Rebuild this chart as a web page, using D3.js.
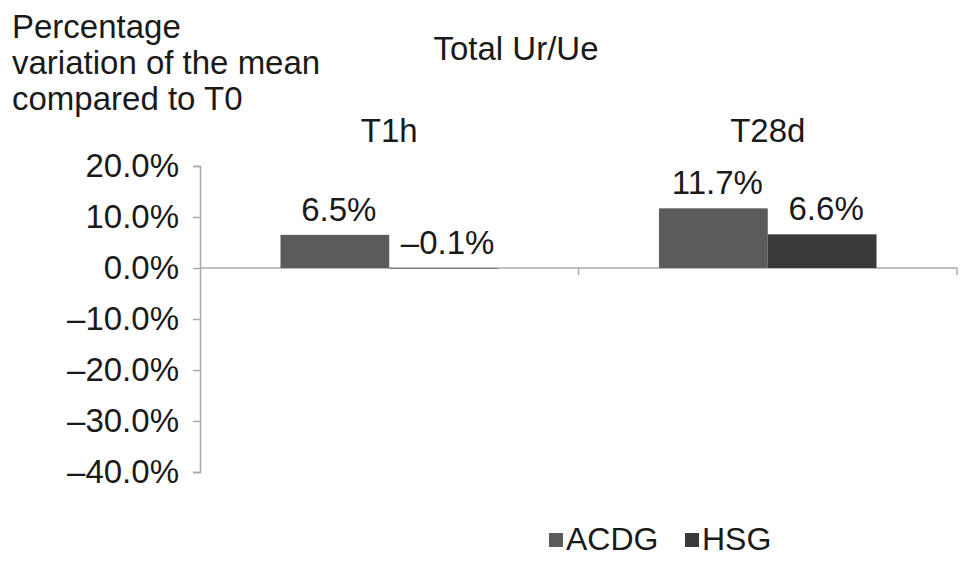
<!DOCTYPE html>
<html>
<head>
<meta charset="utf-8">
<script src="https://cdn.jsdelivr.net/npm/d3@7"></script>
<style>
  html, body { margin: 0; padding: 0; background: #fff; }
  text { font-family: "Liberation Sans", Arial, Helvetica, sans-serif; fill: #1a1a1a; }
</style>
</head>
<body>
<svg id="chart" width="969" height="564"></svg>
<script>
const categories = ["T1h", "T28d"];
const seriesNames = ["ACDG", "HSG"];
const acdgValues = [6.5, 11.7];
const hsgValues = [-0.1, 6.6];
const yTicks = [20, 10, 0, -10, -20, -30, -40];
const titleText = "Total Ur/Ue";
const yTitleLines = ["Percentage", "variation of the mean", "compared to T0"];
const colors = ["#5b5b5b", "#393939"];

const seriesValues = [acdgValues, hsgValues];
const svg = d3.select("#chart");
const FS = 33;
const axisColor = "#a8a8a8";

const x0 = d3.scaleBand().domain(categories).range([200, 957]).paddingInner(0).paddingOuter(0);
const x1 = d3.scaleBand().domain(seriesNames).range([0, x0.bandwidth()]).paddingInner(0).paddingOuter(0.74);
const y = d3.scaleLinear().domain([-40, 20]).range([472, 166]);

// Y axis
const yAxis = d3.axisLeft(y).tickValues(yTicks).tickSize(7).tickPadding(14)
  .tickFormat(d => (d < 0 ? "\u2013" + Math.abs(d).toFixed(1) : d.toFixed(1)) + "%");
const gy = svg.append("g").attr("transform", "translate(200,0)").call(yAxis);
gy.select(".domain").attr("stroke", axisColor).attr("stroke-width", 1.5);
gy.selectAll(".tick line").attr("stroke", axisColor).attr("stroke-width", 1.5);
gy.selectAll(".tick text").style("font-size", FS + "px").attr("fill", "#1a1a1a")
  .style("font-family", '"Liberation Sans", Arial, sans-serif');

// X axis along zero line
const zeroY = y(0);
svg.append("line").attr("x1", 200).attr("x2", 957).attr("y1", zeroY).attr("y2", zeroY)
  .attr("stroke", axisColor).attr("stroke-width", 1.5);
const catEdges = categories.map(c => x0(c) + x0.bandwidth());
svg.selectAll(".xtick").data(catEdges).enter().append("line")
  .attr("x1", d => d).attr("x2", d => d).attr("y1", zeroY).attr("y2", zeroY + 7)
  .attr("stroke", axisColor).attr("stroke-width", 1.5);

// Category labels at top
svg.selectAll(".cat").data(categories).enter().append("text")
  .attr("x", d => x0(d) + x0.bandwidth() / 2)
  .attr("y", 142)
  .attr("text-anchor", "middle")
  .style("font-size", FS + "px")
  .text(d => d);

// Bars
const barData = [];
categories.forEach((c, ci) => {
  seriesNames.forEach((s, si) => {
    barData.push({ cat: c, series: s, si: si, value: seriesValues[si][ci] });
  });
});
svg.selectAll(".bar").data(barData).enter().append("rect")
  .attr("x", d => x0(d.cat) + x1(d.series))
  .attr("width", x1.bandwidth())
  .attr("y", d => y(Math.max(0, d.value)))
  .attr("height", d => Math.abs(y(d.value) - y(0)))
  .attr("fill", d => colors[d.si]);

// Value labels
svg.selectAll(".val").data(barData).enter().append("text")
  .attr("x", d => x0(d.cat) + x1(d.series) + x1.bandwidth() / 2 + 4)
  .attr("y", d => y(Math.max(0, d.value)) - 14)
  .attr("text-anchor", "middle")
  .style("font-size", FS + "px")
  .text(d => (d.value < 0 ? "\u2013" + Math.abs(d.value).toFixed(1) : d.value.toFixed(1)) + "%");

// Title
svg.append("text").attr("x", 516).attr("y", 60).attr("text-anchor", "middle")
  .style("font-size", FS + "px").text(titleText);

// Y title (three lines)
svg.append("text").attr("x", 12).attr("y", 38)
  .style("font-size", FS + "px")
  .selectAll("tspan").data(yTitleLines).enter().append("tspan")
  .attr("x", 12).attr("dy", (d, i) => i === 0 ? 0 : 36).text(d => d);

// Legend
const legendX = [549, 685];
const lg = svg.selectAll(".leg").data(seriesNames).enter().append("g")
  .attr("transform", (d, i) => `translate(${legendX[i]},533)`);
lg.append("rect").attr("width", 14).attr("height", 14).attr("fill", (d, i) => colors[i]);
lg.append("text").attr("x", 17).attr("y", 17).style("font-size", "32px").text(d => d);
</script>
</body>
</html>
